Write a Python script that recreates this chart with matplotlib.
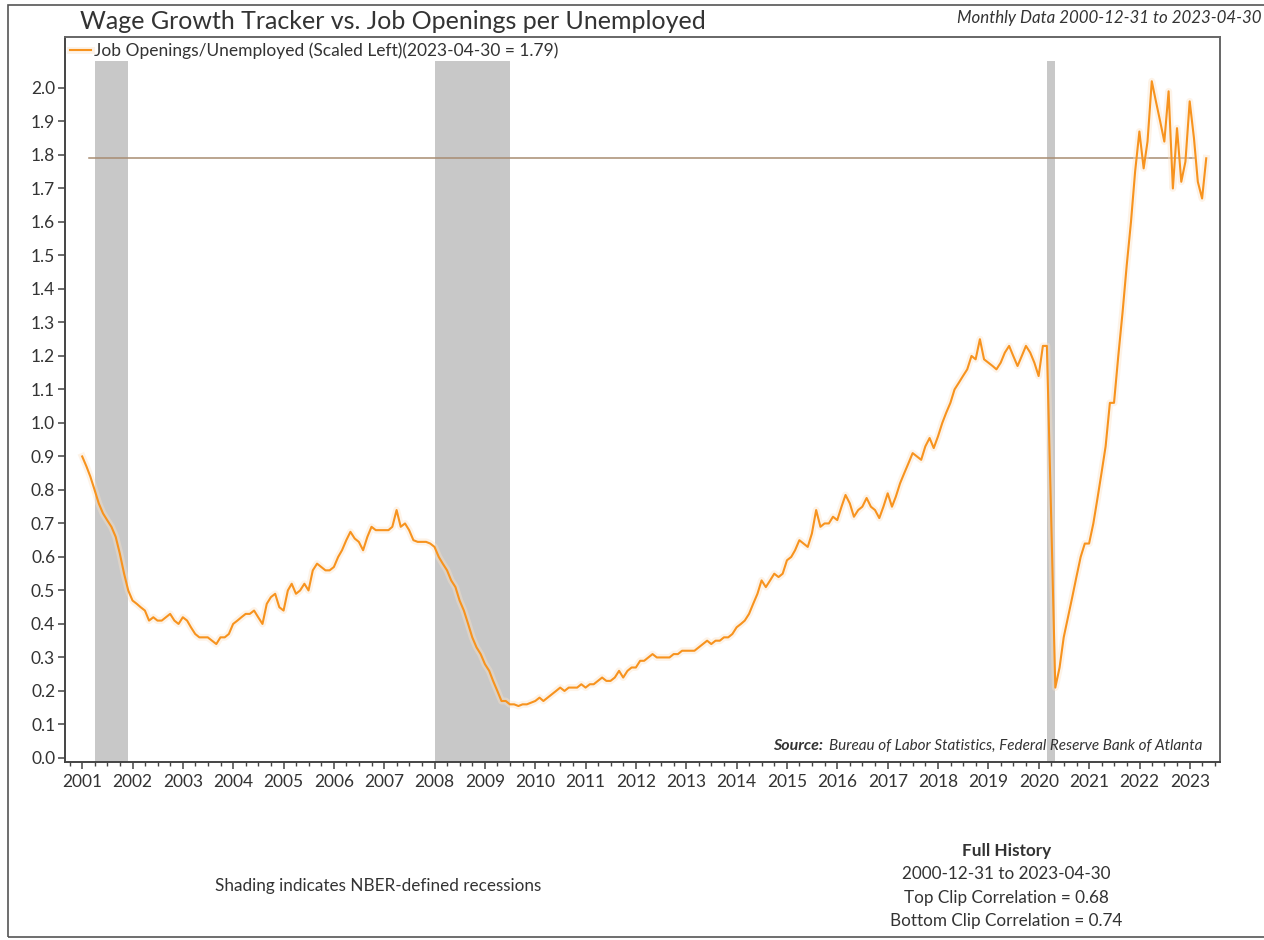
import pandas as pd
import matplotlib.pyplot as plt
import matplotlib.dates as mdates
import matplotlib.patheffects as pe
from matplotlib.patches import Rectangle

plt.rcParams['font.family'] = ['Lato', 'DejaVu Sans']

# Job openings / unemployed, monthly
ratio_2000 = [0.90]
ratio_2001 = [0.87, 0.84, 0.80, 0.76, 0.73, 0.71, 0.69, 0.66, 0.61, 0.55, 0.50, 0.47]
ratio_2002 = [0.46, 0.45, 0.44, 0.41, 0.42, 0.41, 0.41, 0.42, 0.43, 0.41, 0.40, 0.42]
ratio_2003 = [0.41, 0.39, 0.37, 0.36, 0.36, 0.36, 0.35, 0.34, 0.36, 0.36, 0.37, 0.40]
ratio_2004 = [0.41, 0.42, 0.43, 0.43, 0.44, 0.42, 0.40, 0.46, 0.48, 0.49, 0.45, 0.44]
ratio_2005 = [0.50, 0.52, 0.49, 0.50, 0.52, 0.50, 0.56, 0.58, 0.57, 0.56, 0.56, 0.57]
ratio_2006 = [0.60, 0.62, 0.65, 0.675, 0.655, 0.645, 0.62, 0.66, 0.69, 0.68, 0.68, 0.68]
ratio_2007 = [0.68, 0.69, 0.74, 0.69, 0.70, 0.68, 0.65, 0.645, 0.645, 0.645, 0.64, 0.63]
ratio_2008 = [0.60, 0.58, 0.56, 0.53, 0.51, 0.47, 0.44, 0.40, 0.36, 0.33, 0.31, 0.28]
ratio_2009 = [0.26, 0.23, 0.20, 0.17, 0.17, 0.16, 0.16, 0.155, 0.16, 0.16, 0.165, 0.17]
ratio_2010 = [0.18, 0.17, 0.18, 0.19, 0.20, 0.21, 0.20, 0.21, 0.21, 0.21, 0.22, 0.21]
ratio_2011 = [0.22, 0.22, 0.23, 0.24, 0.23, 0.23, 0.24, 0.26, 0.24, 0.26, 0.27, 0.27]
ratio_2012 = [0.29, 0.29, 0.30, 0.31, 0.30, 0.30, 0.30, 0.30, 0.31, 0.31, 0.32, 0.32]
ratio_2013 = [0.32, 0.32, 0.33, 0.34, 0.35, 0.34, 0.35, 0.35, 0.36, 0.36, 0.37, 0.39]
ratio_2014 = [0.40, 0.41, 0.43, 0.46, 0.49, 0.53, 0.51, 0.53, 0.55, 0.54, 0.55, 0.59]
ratio_2015 = [0.60, 0.62, 0.65, 0.64, 0.63, 0.67, 0.74, 0.69, 0.70, 0.70, 0.72, 0.71]
ratio_2016 = [0.75, 0.785, 0.76, 0.72, 0.74, 0.75, 0.776, 0.75, 0.74, 0.716, 0.75, 0.79]
ratio_2017 = [0.75, 0.78, 0.82, 0.85, 0.88, 0.91, 0.90, 0.89, 0.93, 0.955, 0.925, 0.96]
ratio_2018 = [1.00, 1.03, 1.06, 1.10, 1.12, 1.14, 1.16, 1.20, 1.19, 1.25, 1.19, 1.18]
ratio_2019 = [1.17, 1.16, 1.18, 1.21, 1.23, 1.20, 1.17, 1.20, 1.23, 1.21, 1.18, 1.14]
ratio_2020 = [1.23, 1.23, 0.72, 0.21, 0.27, 0.36, 0.42, 0.48, 0.54, 0.60, 0.64, 0.64]
ratio_2021 = [0.70, 0.77, 0.85, 0.93, 1.06, 1.06, 1.20, 1.33, 1.47, 1.60, 1.75, 1.87]
ratio_2022 = [1.76, 1.84, 2.02, 1.96, 1.90, 1.84, 1.99, 1.70, 1.88, 1.72, 1.78, 1.96]
ratio_2023 = [1.85, 1.72, 1.67, 1.79]

ratio = (ratio_2000 + ratio_2001 + ratio_2002 + ratio_2003 + ratio_2004 + ratio_2005
         + ratio_2006 + ratio_2007 + ratio_2008 + ratio_2009 + ratio_2010 + ratio_2011
         + ratio_2012 + ratio_2013 + ratio_2014 + ratio_2015 + ratio_2016 + ratio_2017
         + ratio_2018 + ratio_2019 + ratio_2020 + ratio_2021 + ratio_2022 + ratio_2023)
dates = pd.date_range('2000-12-31', periods=len(ratio), freq='ME')

# NBER recessions
recessions = [('2001-03-31', '2001-11-30'),
              ('2007-12-31', '2009-06-30'),
              ('2020-02-29', '2020-04-30')]

ORANGE = '#F7931E'
TXT = '#333333'

fig = plt.figure(figsize=(12.64, 9.40), dpi=100)
ax = fig.add_axes([0.0514, 0.1894, 0.9138, 0.7712])

ymin, ymax = -0.012, 2.152
shade_top = (2.08 - ymin) / (ymax - ymin)
for start, end in recessions:
    ax.axvspan(pd.Timestamp(start), pd.Timestamp(end), ymin=0, ymax=shade_top,
               color='#C8C8C8', lw=0, zorder=1)

ax.axhline(ratio[-1], xmin=0.0208, xmax=0.978, color='#A88D72', lw=1.1, zorder=2)

ax.plot(dates, ratio, color=ORANGE, lw=1.5, zorder=3,
        label='Job Openings/Unemployed (Scaled Left)(2023-04-30 = %.2f)' % ratio[-1],
        path_effects=[pe.Stroke(linewidth=5, foreground='#FCE2C6', alpha=0.4), pe.Normal()])

ax.set_xlim(pd.Timestamp('2000-08-28'), pd.Timestamp('2023-08-08'))
ax.set_ylim(ymin, ymax)
ax.set_yticks([i / 10 for i in range(21)])
ax.yaxis.set_major_formatter(plt.FormatStrFormatter('%.1f'))
ax.xaxis.set_major_locator(mdates.YearLocator())
ax.xaxis.set_major_formatter(mdates.DateFormatter('%Y'))
ax.xaxis.set_minor_locator(mdates.MonthLocator(bymonth=[4, 7, 10]))

ax.tick_params(axis='both', which='major', direction='out', length=5, width=1.1,
               colors='#444444', labelcolor=TXT, labelsize=12.5)
ax.tick_params(axis='x', which='minor', direction='out', length=3, width=1, colors='#444444')
ax.tick_params(axis='y', pad=2)

for side in ['left', 'bottom']:
    ax.spines[side].set_color('#444444')
    ax.spines[side].set_linewidth(1.4)
for side in ['top', 'right']:
    ax.spines[side].set_color('#666666')
    ax.spines[side].set_linewidth(1.4)

leg = ax.legend(loc='upper left', frameon=False, fontsize=12.5, handlelength=1.2,
                handletextpad=0.2, borderaxespad=0.1, borderpad=0.2)
for t in leg.get_texts():
    t.set_color(TXT)

ax.text(0.985, 0.012, 'Bureau of Labor Statistics, Federal Reserve Bank of Atlanta',
        transform=ax.transAxes, ha='right', va='bottom', fontsize=11,
        style='italic', color=TXT)
ax.text(0.656, 0.012, 'Source:', transform=ax.transAxes, ha='right', va='bottom',
        fontsize=11.5, style='italic', weight='bold', color=TXT)

fig.text(0.063, 0.9766, 'Wage Growth Tracker vs. Job Openings per Unemployed',
         ha='left', va='center', fontsize=18, color=TXT)
fig.text(0.998, 0.981, 'Monthly Data 2000-12-31 to 2023-04-30', ha='right', va='center',
         fontsize=12.2, style='italic', color=TXT)

fig.text(0.299, 0.0574, 'Shading indicates NBER-defined recessions', ha='center',
         va='center', fontsize=12.3, color=TXT)
fig.text(0.796, 0.0947, 'Full History', ha='center', va='center', fontsize=12.3,
         weight='bold', color=TXT)
fig.text(0.796, 0.0702, '2000-12-31 to 2023-04-30', ha='center', va='center',
         fontsize=12.3, color=TXT)
fig.text(0.796, 0.0447, 'Top Clip Correlation = 0.68', ha='center', va='center',
         fontsize=12.3, color=TXT)
fig.text(0.796, 0.0202, 'Bottom Clip Correlation = 0.74', ha='center', va='center',
         fontsize=12.3, color=TXT)

fig.patches.append(Rectangle((0.0063, 0.0032), 1.2, 0.9915, transform=fig.transFigure,
                             fill=False, edgecolor='#555555', lw=1.2))

fig.savefig('out.png', dpi=100)
